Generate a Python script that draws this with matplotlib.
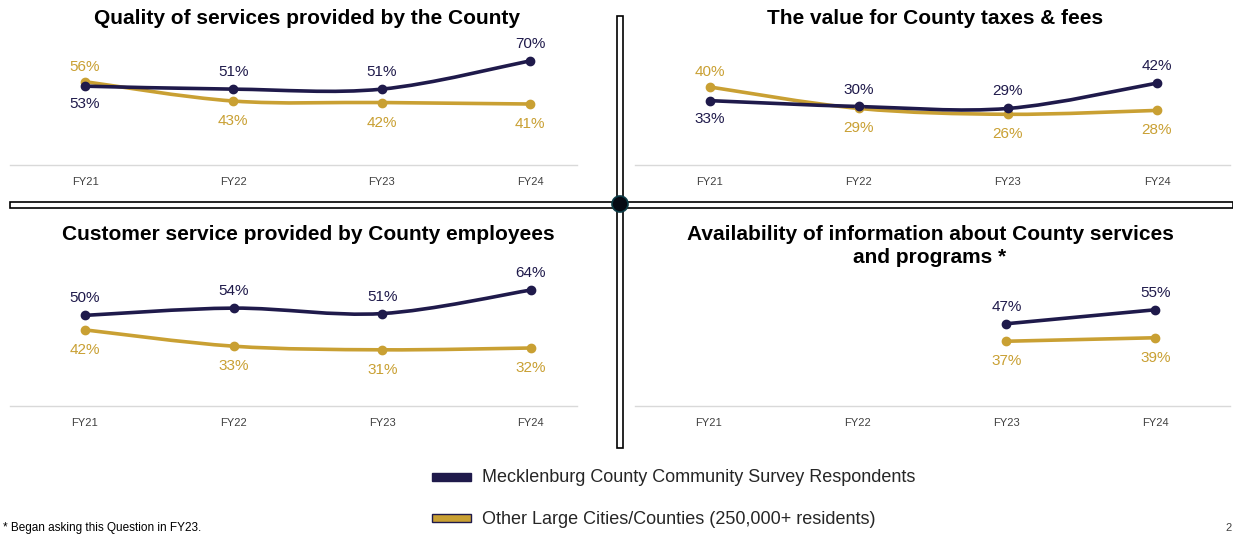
import matplotlib
matplotlib.use('Agg')
import matplotlib.pyplot as plt
from matplotlib.path import Path
from matplotlib.patches import PathPatch, Rectangle, Ellipse

plt.rcParams['font.family'] = ['Liberation Sans', 'DejaVu Sans']

# data (percent)
years = ['FY21', 'FY22', 'FY23', 'FY24']

quality_county = [53, 51, 51, 70]
quality_others = [56, 43, 42, 41]
value_county = [33, 30, 29, 42]
value_others = [40, 29, 26, 28]
custserv_county = [50, 54, 51, 64]
custserv_others = [42, 33, 31, 32]
info_county = [None, None, 47, 55]
info_others = [None, None, 37, 39]

titles = ['Quality of services provided by the County',
          'The value for County taxes & fees',
          'Customer service provided by County employees',
          'Availability of information about County services\nand programs *']
legend_labels = ['Mecklenburg County Community Survey Respondents',
                 'Other Large Cities/Counties (250,000+ residents)']

NAVY = '#1f1a4b'
GOLD = '#c9a033'
W, H = 1233, 535

fig = plt.figure(figsize=(W / 100, H / 100), dpi=100)


def box(l, t, r, b):
    # pixel box (from top-left) -> figure fraction rect
    return [l / W, 1 - b / H, (r - l) / W, (b - t) / H]


def smooth_line(ax, xs, ys, color):
    # excel-like smoothed line: bezier segments through the points
    pts = list(zip(xs, ys))
    verts = [pts[0]]
    codes = [Path.MOVETO]
    n = len(pts)
    for i in range(n - 1):
        p0 = pts[max(i - 1, 0)]
        p1 = pts[i]
        p2 = pts[i + 1]
        p3 = pts[min(i + 2, n - 1)]
        c1 = (p1[0] + (p2[0] - p0[0]) / 6, p1[1] + (p2[1] - p0[1]) / 6)
        c2 = (p2[0] - (p3[0] - p1[0]) / 6, p2[1] - (p3[1] - p1[1]) / 6)
        verts += [c1, c2, p2]
        codes += [Path.CURVE4] * 3
    ax.add_patch(PathPatch(Path(verts, codes), fill=False, edgecolor=color,
                           lw=2.6, capstyle='round', zorder=3))
    ax.plot(xs, ys, 'o', color=color, ms=6, zorder=4)


panels = [
    (box(10, 46, 577, 165), (-0.506, 3.317), quality_county, quality_others),
    (box(635, 48, 1230, 165), (-0.503, 3.49), value_county, value_others),
    (box(10, 261, 577, 406), (-0.504, 3.31), custserv_county, custserv_others),
    (box(635, 266, 1230, 406), (-0.49, 3.5), info_county, info_others),
]
ymax = [80, 60, 80, 80]

for k, (rect, xl, cty, oth) in enumerate(panels):
    ax = fig.add_axes(rect)
    ax.set_xlim(*xl)
    ax.set_ylim(0, ymax[k])
    for s in ['top', 'right', 'left']:
        ax.spines[s].set_visible(False)
    ax.spines['bottom'].set_color('#d9d9d9')
    ax.spines['bottom'].set_linewidth(1)
    ax.set_yticks([])
    ax.set_xticks(range(len(years)))
    ax.set_xticklabels(years, fontsize=8, color='#404040')
    ax.tick_params(axis='x', length=0, pad=9)

    idx = [i for i in range(len(years)) if cty[i] is not None]
    smooth_line(ax, idx, [oth[i] for i in idx], GOLD)
    smooth_line(ax, idx, [cty[i] for i in idx], NAVY)
    for i in idx:
        up = cty[i] >= oth[i]
        ax.annotate(f'{cty[i]}%', (i, cty[i]), xytext=(0, 17 if up else -18),
                    textcoords='offset pixels', ha='center', va='center',
                    fontsize=11, color=NAVY)
        ax.annotate(f'{oth[i]}%', (i, oth[i]), xytext=(0, -20 if up else 15),
                    textcoords='offset pixels', ha='center', va='center',
                    fontsize=11, color=GOLD)

# titles
title_pos = [(307, 18), (935, 19), (308, 234), (930, 246)]
for (x, y), t in zip(title_pos, titles):
    fig.text(x / W, 1 - y / H, t, ha='center', va='center', fontsize=15,
             fontweight='bold', color='black', linespacing=1.25)

# separating cross
fig.add_artist(Rectangle((10 / W, 1 - 208 / H), (W - 10) / W, 6 / H,
                         transform=fig.transFigure, facecolor='white',
                         edgecolor='black', lw=1.2))
fig.add_artist(Rectangle((617 / W, 1 - 448 / H), 6 / W, 432 / H,
                         transform=fig.transFigure, facecolor='white',
                         edgecolor='black', lw=1.2))
fig.add_artist(Ellipse((620 / W, 1 - 204 / H), 16 / W, 16 / H,
                       transform=fig.transFigure, facecolor='#050a14',
                       edgecolor='#0b3a44', lw=1.2))

# legend
for y, c, lab in zip([477, 518], [NAVY, GOLD], legend_labels):
    fig.add_artist(Rectangle((432 / W, 1 - (y + 4) / H), 39 / W, 8 / H,
                             transform=fig.transFigure, facecolor=c,
                             edgecolor=NAVY, lw=1))
    fig.text(482 / W, 1 - (y + 1) / H, lab, ha='left', va='center',
             fontsize=13, color='#262626')

fig.text(3 / W, 1 - 528 / H, '* Began asking this Question in FY23.',
         ha='left', va='center', fontsize=8.5, color='black')
fig.text(1225 / W, 1 - 528 / H, '2', ha='left', va='center', fontsize=8,
         color='#404040')

fig.savefig('out.png', dpi=100)
